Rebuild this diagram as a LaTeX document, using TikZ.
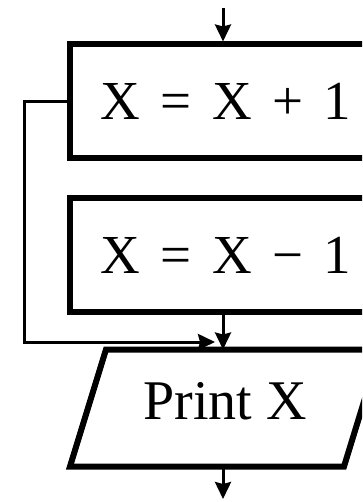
\documentclass[tikz,border=0pt]{standalone}
\usepackage{fontspec}
\setmainfont{Liberation Serif}
\usetikzlibrary{arrows.meta}
\newcommand{\widesp}{\spaceskip=0.37em\relax}

\begin{document}
\begin{tikzpicture}[x=1pt,y=-1pt,>={Stealth[length=17pt,width=16pt,inset=2pt]},
  line width=3pt,
  font=\fontsize{54}{60}\selectfont,
  procbox/.style={draw,line width=6pt,minimum width=312pt,minimum height=114pt,inner sep=0pt,
    font={\fontsize{55}{60}\selectfont\widesp}},
  iobox/.style={minimum width=271pt,minimum height=114pt,inner sep=0pt,text depth=14pt,
    font=\fontsize{56}{60}\selectfont}]
\useasboundingbox (0,0) rectangle (362,502);
\clip (0,0) rectangle (362,502);
\node[procbox] (inc) at (226,101.5) {X = X + 1};
\node[procbox] (dec) at (226,255) {X = X − 1};
\node[iobox] (print) at (225,408) {Print X};
% parallelogram round the print node
\draw[line width=6pt] ([xshift=-18pt]print.south west)--([xshift=-18pt]print.south east)
  --([xshift=18pt]print.north east)--([xshift=18pt]print.north west)--cycle;
\coordinate (entry) at (223,8);
\coordinate (join) at (215,342);
\coordinate (exit) at (223,499);
\draw[->] (entry)--(inc.north -| entry);
\draw[->] (inc.west)--++(-43,0)|-(join);
\draw[->] (dec.south -| entry)--(print.north -| entry);
\draw[->] (print.south -| exit)--(exit);
\end{tikzpicture}
\end{document}
